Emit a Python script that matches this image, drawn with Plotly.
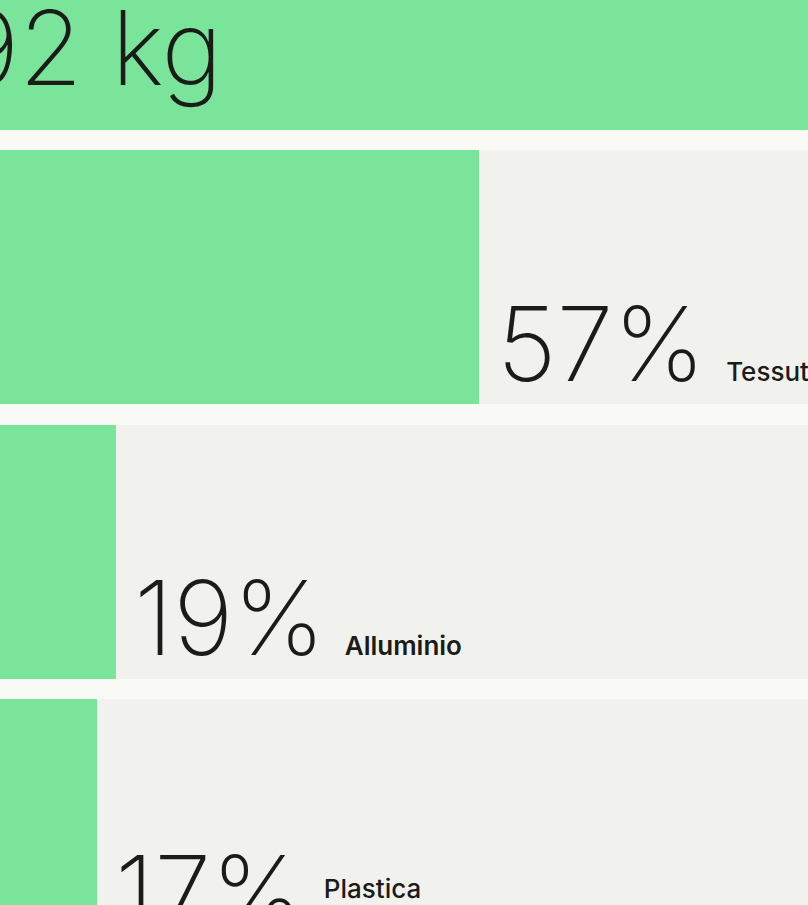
import plotly.graph_objects as go

# ---- data ----
categories = ["Totale", "Tessuto", "Alluminio", "Plastica"]
shares = [100, 57, 19, 17]
value_labels = ["92 kg", "57%", "19%", "17%"]
label_weights = [500, 500, 600, 500]
label_raise = [0, 0, 0, 32]   # Plastica sits higher than its number in the reference

GREEN = "#7ae59a"
ROW_BG = "#f1f2ee"
PAGE_BG = "#f9f9f6"
INK = "#1b1b18"

W, H = 808, 905
X_RANGE = [6.843, 91.45]
Y_RANGE = [3.2878, -0.0091]
BAR_W = 0.9253

pos = list(range(len(categories)))

fig = go.Figure()
# full-width row backgrounds
fig.add_trace(go.Bar(
    y=pos, x=[100] * len(pos), orientation="h", width=BAR_W,
    marker=dict(color=ROW_BG, line=dict(width=0)), hoverinfo="skip", showlegend=False,
))
# share bars
fig.add_trace(go.Bar(
    y=pos, x=shares, orientation="h", width=BAR_W,
    marker=dict(color=GREEN, line=dict(width=0)), showlegend=False,
    customdata=categories, hovertemplate="%{customdata}: %{x}%<extra></extra>",
))

big_font = dict(family="Inter", size=103, color=INK, weight=200)

# half bar height in pixels (labels sit on the bar bottoms)
half_bar_px = BAR_W / 2 * H / abs(Y_RANGE[0] - Y_RANGE[1])

# total label (anchored at the chart's left edge, which is cropped off-page)
x0_paper = (0 - X_RANGE[0]) / (X_RANGE[1] - X_RANGE[0])
fig.add_annotation(
    xref="paper", yref="y", x=x0_paper, y=pos[0],
    text=value_labels[0], showarrow=False, xanchor="left", yanchor="bottom",
    xshift=22, yshift=-half_bar_px + 17, font=big_font,
)

for i in range(1, len(categories)):
    shift = f";baseline-shift:{label_raise[i]}px" if label_raise[i] else ""
    txt = (f"{value_labels[i]}<span style='font-size:26px;font-weight:{label_weights[i]}{shift}'>"
           f"&#160;&#160;&#160;{categories[i]}</span>")
    fig.add_annotation(
        x=shares[i], y=pos[i], text=txt, showarrow=False,
        xanchor="left", yanchor="bottom", xshift=16, yshift=-half_bar_px - 4,
        font=big_font,
    )

fig.update_layout(
    width=W, height=H, margin=dict(l=0, r=0, t=0, b=0),
    paper_bgcolor=PAGE_BG, plot_bgcolor=PAGE_BG,
    barmode="overlay", bargap=0,
    xaxis=dict(range=X_RANGE, visible=False, fixedrange=True),
    yaxis=dict(range=Y_RANGE, visible=False, fixedrange=True),
    font=dict(family="Inter", color=INK),
)

fig.write_html(
    "out.html",
    config={"displayModeBar": False},
    post_script="document.body.style.margin='0';document.body.style.overflow='hidden';",
)
